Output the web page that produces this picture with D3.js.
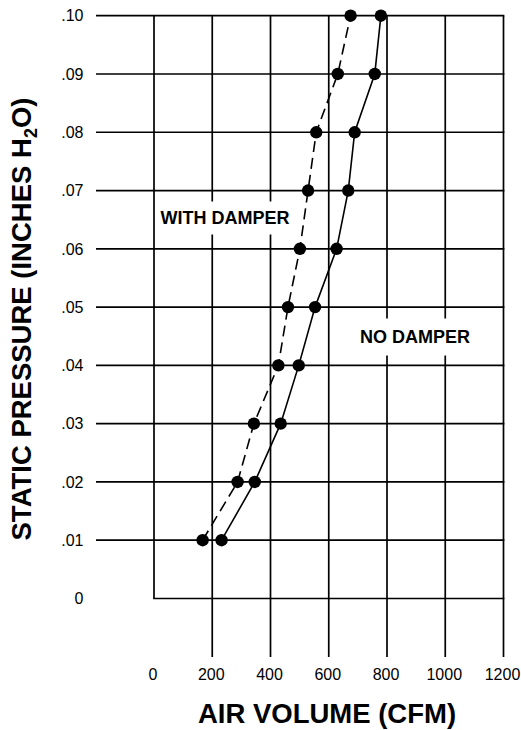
<!DOCTYPE html>
<html>
<head>
<meta charset="utf-8">
<script src="https://cdn.jsdelivr.net/npm/d3@7"></script>
<style>
  html, body { margin: 0; padding: 0; background: #fff; }
  svg { display: block; }
  text { font-family: "Liberation Sans", Arial, sans-serif; fill: #000; }
</style>
</head>
<body>
<svg id="chart" width="521" height="730"></svg>
<script>
// ---- data ----
const pressures = [0.01, 0.02, 0.03, 0.04, 0.05, 0.06, 0.07, 0.08, 0.09, 0.10];
const noDamperCFM = [232, 346, 435, 497, 553, 627, 667, 689, 758, 779];
const withDamperCFM = [167, 287, 343, 427, 460, 501, 529, 557, 631, 675];
const xTicks = [0, 200, 400, 600, 800, 1000, 1200];
const yTicks = [0, 0.01, 0.02, 0.03, 0.04, 0.05, 0.06, 0.07, 0.08, 0.09, 0.10];
const yTickLabels = ["0", ".01", ".02", ".03", ".04", ".05", ".06", ".07", ".08", ".09", ".10"];
const xTitle = "AIR VOLUME (CFM)";
const seriesLabels = ["WITH DAMPER", "NO DAMPER"];

// ---- layout ----
const svg = d3.select("#chart");
const x = d3.scaleLinear().domain([0, 1200]).range([154, 503.5]);
const y = d3.scaleLinear().domain([0, 0.10]).range([598.5, 15.7]);
const gridW = 1.7;

const grid = svg.append("g").attr("stroke", "#000").attr("stroke-width", gridW);
// horizontal lines
yTicks.forEach(v => {
  grid.append("line")
    .attr("x1", v === 0 ? x(0) - gridW / 2 : 96)
    .attr("x2", x(1200) + gridW / 2)
    .attr("y1", y(v)).attr("y2", y(v));
});
// vertical lines
xTicks.forEach(v => {
  grid.append("line")
    .attr("x1", x(v)).attr("x2", x(v))
    .attr("y1", y(0.10))
    .attr("y2", v === 0 ? y(0) : 657);
});

// y tick labels
svg.append("g").selectAll("text").data(yTicks).join("text")
  .attr("x", 83.5).attr("y", d => y(d)).attr("dy", "0.36em")
  .attr("text-anchor", "end").attr("font-size", 16)
  .text((d, i) => yTickLabels[i]);

// x tick labels
svg.append("g").selectAll("text").data(xTicks).join("text")
  .attr("x", d => x(d) - 1).attr("y", 680)
  .attr("text-anchor", "middle").attr("font-size", 16)
  .text(d => d);

// axis titles
svg.append("text")
  .attr("x", 327).attr("y", 723)
  .attr("text-anchor", "middle").attr("font-size", 27.5).attr("font-weight", "bold")
  .text(xTitle);

const yt = svg.append("text")
  .attr("transform", "translate(31,319) rotate(-90)")
  .attr("text-anchor", "middle").attr("font-size", 27.5).attr("font-weight", "bold");
yt.append("tspan").text("STATIC PRESSURE (INCHES H");
yt.append("tspan").attr("font-size", 18).attr("dy", 6).text("2");
yt.append("tspan").attr("dy", -6).text("O)");

// series label boxes
const labelBoxes = [
  { text: seriesLabels[0], cx: 225, cy: 218, w: 138, h: 33 },
  { text: seriesLabels[1], cx: 415, cy: 337, w: 122, h: 37 }
];
labelBoxes.forEach(b => {
  svg.append("rect").attr("x", b.cx - b.w / 2).attr("y", b.cy - b.h / 2)
    .attr("width", b.w).attr("height", b.h).attr("fill", "#fff");
  svg.append("text").attr("x", b.cx).attr("y", b.cy).attr("dy", "0.36em")
    .attr("text-anchor", "middle").attr("font-size", 18).attr("font-weight", "bold")
    .text(b.text);
});

// series
const line = d3.line().x(d => x(d[0])).y(d => y(d[1]));
const noD = noDamperCFM.map((v, i) => [v, pressures[i]]);
const withD = withDamperCFM.map((v, i) => [v, pressures[i]]);

svg.append("path").datum(withD).attr("d", line)
  .attr("fill", "none").attr("stroke", "#000").attr("stroke-width", 1.6)
  .attr("stroke-dasharray", "11,6");
svg.append("path").datum(noD).attr("d", line)
  .attr("fill", "none").attr("stroke", "#000").attr("stroke-width", 1.6);

[withD, noD].forEach(s => {
  svg.append("g").selectAll("circle").data(s).join("circle")
    .attr("cx", d => x(d[0])).attr("cy", d => y(d[1])).attr("r", 6.2)
    .attr("fill", "#000");
});
</script>
</body>
</html>
